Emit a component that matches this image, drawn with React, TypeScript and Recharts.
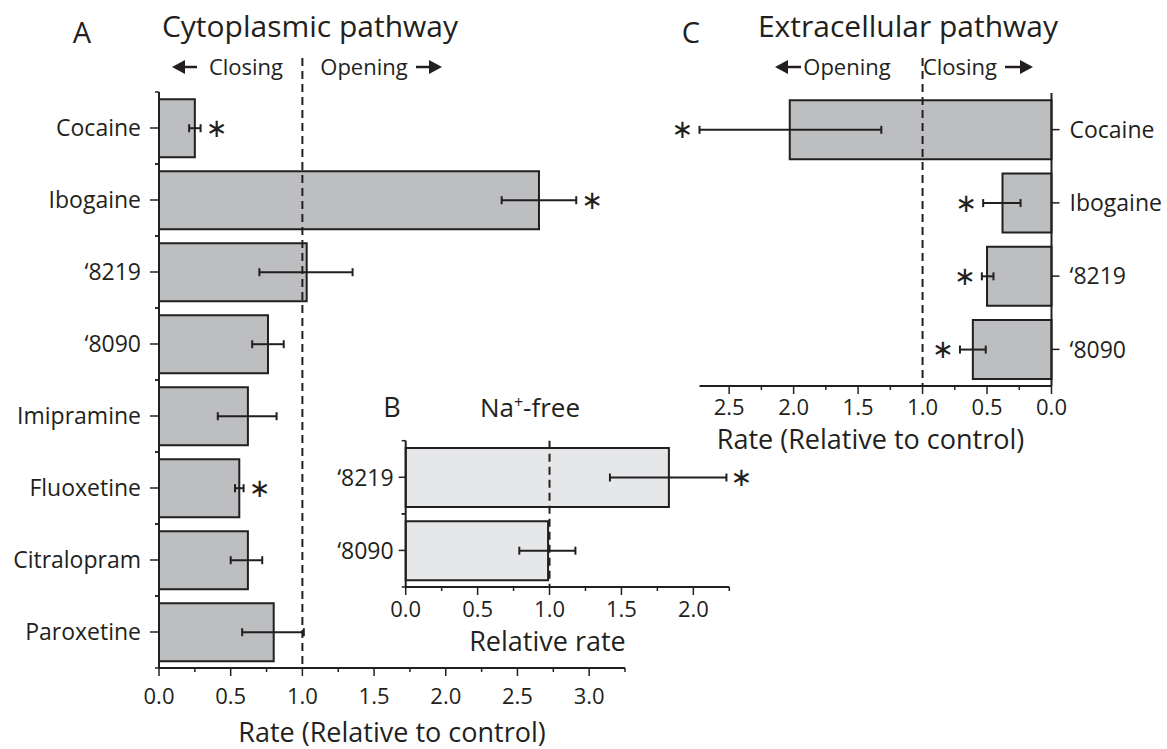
import React from "react";
import {
  Bar,
  BarChart,
  ErrorBar,
  Label,
  LabelList,
  ReferenceLine,
  XAxis,
  YAxis,
} from "recharts";

const INK = "#231f20";
const FONT = "'Open Sans', sans-serif";

// A - cytoplasmic pathway
const cytoDrugs = [
  "Cocaine",
  "Ibogaine",
  "‘8219",
  "‘8090",
  "Imipramine",
  "Fluoxetine",
  "Citralopram",
  "Paroxetine",
];
const cytoRate = [0.25, 2.65, 1.03, 0.76, 0.62, 0.56, 0.62, 0.8];
const cytoLow = [0.21, 2.39, 0.7, 0.65, 0.41, 0.53, 0.5, 0.58];
const cytoHigh = [0.29, 2.91, 1.35, 0.87, 0.82, 0.59, 0.72, 1.01];
const cytoSig = [true, true, false, false, false, true, false, false];
const cytoTicks = [0, 0.25, 0.5, 0.75, 1, 1.25, 1.5, 1.75, 2, 2.25, 2.5, 2.75, 3, 3.25];

// B - Na+-free
const naDrugs = ["‘8219", "‘8090"];
const naRate = [1.83, 0.99];
const naLow = [1.42, 0.79];
const naHigh = [2.23, 1.18];
const naSig = [true, false];
const naTicks = [0, 0.25, 0.5, 0.75, 1, 1.25, 1.5, 1.75, 2, 2.25];

// C - extracellular pathway
const extraDrugs = ["Cocaine", "Ibogaine", "‘8219", "‘8090"];
const extraRate = [2.03, 0.38, 0.5, 0.61];
const extraLow = [1.32, 0.24, 0.45, 0.51];
const extraHigh = [2.73, 0.53, 0.54, 0.71];
const extraSig = [true, true, true, true];
const extraTicks = [0, 0.25, 0.5, 0.75, 1, 1.25, 1.5, 1.75, 2, 2.25, 2.5];

type Row = { name: string; rate: number; err: [number, number]; star: number | null };

function toRows(
  names: string[],
  rate: number[],
  low: number[],
  high: number[],
  sig: boolean[]
): Row[] {
  return names.map((name, i) => ({
    name,
    rate: rate[i],
    err: [rate[i] - low[i], high[i] - rate[i]],
    star: sig[i] ? high[i] : null,
  }));
}

const cytoRows = toRows(cytoDrugs, cytoRate, cytoLow, cytoHigh, cytoSig);
const naRows = toRows(naDrugs, naRate, naLow, naHigh, naSig);
const extraRows = toRows(extraDrugs, extraRate, extraLow, extraHigh, extraSig);

// x ticks: long ticks + label every 0.5, short ticks in between
const xTick = (size: number, margin: number) => (props: any) => {
  const { x, y, payload } = props;
  const v = payload.value as number;
  const axisY = y - size - margin;
  const major = Math.round(v * 100) % 50 === 0;
  return (
    <g>
      <line
        x1={x}
        x2={x}
        y1={axisY}
        y2={axisY + (major ? size : size / 2)}
        stroke={INK}
        strokeWidth={1.5}
      />
      {major && (
        <text
          x={x}
          y={y}
          dy="0.71em"
          textAnchor="middle"
          fill={INK}
          fontSize={22}
          fontFamily={FONT}
        >
          {v.toFixed(1)}
        </text>
      )}
    </g>
  );
};

const yTick =
  (side: "left" | "right", size: number, margin: number, minor: boolean) =>
  (props: any) => {
    const { x, y, payload } = props;
    const sign = side === "left" ? 1 : -1;
    const axisX = x + sign * (size + margin);
    const half = payload.offset;
    return (
      <g>
        <line x1={axisX - sign * size} x2={axisX} y1={y} y2={y} stroke={INK} strokeWidth={1.5} />
        {minor && half ? (
          <>
            <line x1={axisX - sign * 4} x2={axisX} y1={y - half} y2={y - half} stroke={INK} strokeWidth={1.5} />
            <line x1={axisX - sign * 4} x2={axisX} y1={y + half} y2={y + half} stroke={INK} strokeWidth={1.5} />
          </>
        ) : null}
        <text
          x={x}
          y={y}
          dy="0.36em"
          textAnchor={side === "left" ? "end" : "start"}
          fill={INK}
          fontSize={23}
          fontFamily={FONT}
        >
          {payload.value}
        </text>
      </g>
    );
  };

// asterisk placed just past the end of the error bar
const star = (rows: Row[], dir: 1 | -1, gap: number) => (props: any) => {
  const { index, value } = props;
  if (value == null) return null;
  const vb = props.viewBox ?? props;
  const w = Math.abs(vb.width);
  const left = Math.min(vb.x, vb.x + vb.width);
  const zero = dir === 1 ? left : left + w;
  const px = zero + dir * (value / rows[index].rate) * w;
  return (
    <text
      x={px + dir * gap}
      y={vb.y + vb.height / 2}
      dy="0.33em"
      textAnchor="middle"
      fill={INK}
      fontSize={26}
      fontFamily="'DejaVu Sans', sans-serif"
    >
      ∗
    </text>
  );
};

const dashed = (ext: number) => (p: any) => (
  <line
    x1={p.x1}
    x2={p.x2}
    y1={Math.min(p.y1, p.y2) - ext}
    y2={Math.max(p.y1, p.y2)}
    stroke={INK}
    strokeWidth={2}
    strokeDasharray="8 5"
  />
);

const Arrow = ({ from, to, y }: { from: number; to: number; y: number }) => {
  const d = Math.sign(to - from);
  const base = to - d * 13;
  return (
    <g>
      <line x1={from} x2={base} y1={y} y2={y} stroke={INK} strokeWidth={2.5} />
      <polygon points={`${to},${y} ${base},${y - 7} ${base},${y + 7}`} fill={INK} />
    </g>
  );
};

const axisLine = { stroke: INK, strokeWidth: 2 };

export default function App() {
  return (
    <div
      style={{
        position: "absolute",
        left: 0,
        top: 0,
        width: 1167,
        height: 749,
        background: "#fff",
        fontFamily: FONT,
      }}
    >
      {/* A */}
      <div style={{ position: "absolute", left: 0, top: 0 }}>
        <BarChart
          width={650}
          height={749}
          data={cytoRows}
          layout="vertical"
          margin={{ top: 92, right: 25, left: 0, bottom: 0 }}
          barCategoryGap="10%"
        >
          <XAxis
            type="number"
            domain={[0, 3.25]}
            ticks={cytoTicks}
            interval={0}
            height={81}
            tickSize={8}
            tickMargin={12}
            tickLine={false}
            axisLine={axisLine}
            tick={xTick(8, 12)}
          >
            <Label
              value="Rate (Relative to control)"
              position="insideBottom"
              offset={7}
              fill={INK}
              fontSize={27}
              fontFamily={FONT}
            />
          </XAxis>
          <YAxis
            type="category"
            dataKey="name"
            width={159}
            interval={0}
            tickSize={9}
            tickMargin={9}
            tickLine={false}
            axisLine={axisLine}
            tick={yTick("left", 9, 9, true)}
          />
          <ReferenceLine x={1} shape={dashed(34)} />
          <Bar dataKey="rate" fill="#bcbec0" stroke={INK} strokeWidth={2} isAnimationActive={false}>
            <ErrorBar dataKey="err" direction="x" width={4} stroke={INK} strokeWidth={2} />
            <LabelList dataKey="star" content={star(cytoRows, 1, 16)} />
          </Bar>
        </BarChart>
      </div>

      {/* B */}
      <div style={{ position: "absolute", left: 250, top: 400 }}>
        <BarChart
          width={540}
          height={267}
          data={naRows}
          layout="vertical"
          margin={{ top: 40.7, right: 60.7, left: 0, bottom: 0 }}
          barCategoryGap="10%"
        >
          <XAxis
            type="number"
            domain={[0, 2.25]}
            ticks={naTicks}
            interval={0}
            height={80}
            tickSize={8}
            tickMargin={6}
            tickLine={false}
            axisLine={axisLine}
            tick={xTick(8, 6)}
          >
            <Label
              value="Relative rate"
              position="insideBottom"
              offset={16}
              dx={-20}
              fill={INK}
              fontSize={27}
              fontFamily={FONT}
            />
          </XAxis>
          <YAxis
            type="category"
            dataKey="name"
            width={155.7}
            interval={0}
            tickSize={7}
            tickMargin={5}
            tickLine={false}
            axisLine={axisLine}
            tick={yTick("left", 7, 5, true)}
          />
          <ReferenceLine x={1} shape={dashed(0)} />
          <Bar dataKey="rate" fill="#e6e7e8" stroke={INK} strokeWidth={2} isAnimationActive={false}>
            <ErrorBar dataKey="err" direction="x" width={4} stroke={INK} strokeWidth={2} />
            <LabelList dataKey="star" content={star(naRows, 1, 15)} />
          </Bar>
        </BarChart>
      </div>

      {/* C */}
      <div style={{ position: "absolute", left: 620, top: 0 }}>
        <BarChart
          width={547}
          height={456}
          data={extraRows}
          layout="vertical"
          margin={{ top: 93, right: 0, left: 79.5, bottom: 0 }}
          barCategoryGap="10%"
        >
          <XAxis
            type="number"
            domain={[0, 2.5]}
            reversed
            ticks={extraTicks}
            interval={0}
            height={70}
            tickSize={8}
            tickMargin={5}
            tickLine={false}
            axisLine={axisLine}
            tick={xTick(8, 5)}
          >
            <Label
              value="Rate (Relative to control)"
              position="insideBottom"
              offset={7}
              dx={-5}
              fill={INK}
              fontSize={27}
              fontFamily={FONT}
            />
          </XAxis>
          <YAxis
            type="category"
            dataKey="name"
            orientation="right"
            width={115.5}
            interval={0}
            tickSize={8}
            tickMargin={10}
            tickLine={false}
            axisLine={axisLine}
            tick={yTick("right", 8, 10, false)}
          />
          <ReferenceLine x={1} shape={dashed(35)} />
          <Bar dataKey="rate" fill="#bcbec0" stroke={INK} strokeWidth={2} isAnimationActive={false}>
            <ErrorBar dataKey="err" direction="x" width={4} stroke={INK} strokeWidth={2} />
            <LabelList dataKey="star" content={star(extraRows, -1, 17)} />
          </Bar>
        </BarChart>
      </div>

      {/* panel letters and headers */}
      <svg
        width={1167}
        height={749}
        style={{ position: "absolute", left: 0, top: 0, pointerEvents: "none" }}
        fontFamily={FONT}
        fill={INK}
      >
        <text x={82} y={43} fontSize={29} textAnchor="middle">A</text>
        <text x={310} y={37} fontSize={30} textAnchor="middle">Cytoplasmic pathway</text>
        <Arrow from={197} to={172} y={67} />
        <text x={246} y={75} fontSize={22} textAnchor="middle">Closing</text>
        <text x={364} y={75} fontSize={22} textAnchor="middle">Opening</text>
        <Arrow from={416} to={442} y={67} />

        <text x={392} y={417} fontSize={27} textAnchor="middle">B</text>
        <text x={530} y={417} fontSize={26} textAnchor="middle">
          Na<tspan dy={-9} fontSize={16}>+</tspan>
          <tspan dy={9}>-free</tspan>
        </text>

        <text x={691} y={43} fontSize={29} textAnchor="middle">C</text>
        <text x={908} y={37} fontSize={30} textAnchor="middle">Extracellular pathway</text>
        <Arrow from={801} to={775} y={67} />
        <text x={847} y={75} fontSize={22} textAnchor="middle">Opening</text>
        <text x={960} y={75} fontSize={22} textAnchor="middle">Closing</text>
        <Arrow from={1005} to={1033} y={67} />
      </svg>
    </div>
  );
}
